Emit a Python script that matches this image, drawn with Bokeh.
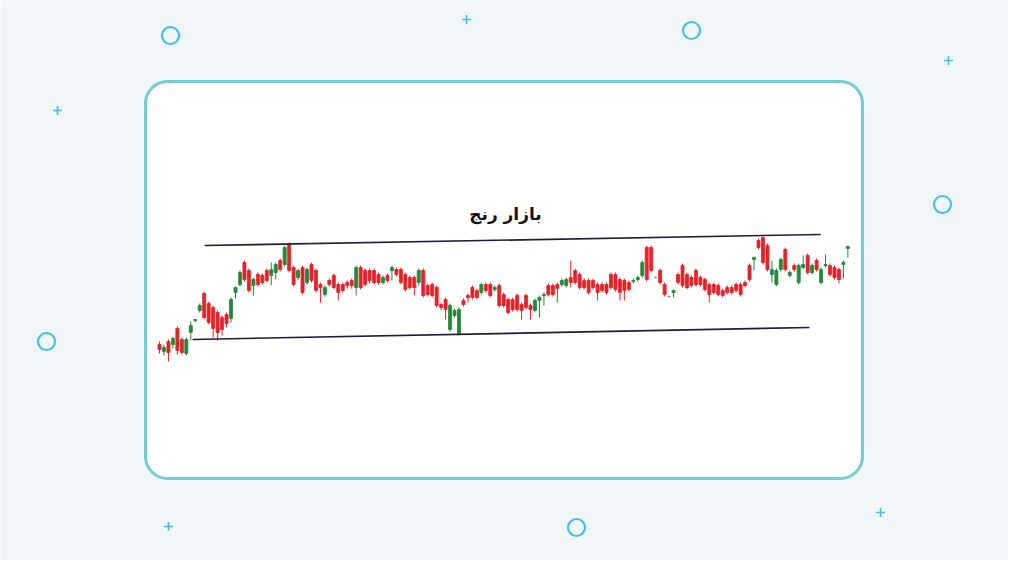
from bokeh.plotting import figure
from bokeh.models import Range1d, ColumnDataSource, BoxAnnotation
from bokeh.core.properties import value
from bokeh.embed import file_html
from bokeh.resources import INLINE

title_text = "بازار رنج"

open_ = [48,41,51,48,64,53,39,60,72,82, 99,89,85,80,75,78,74,100,108,130, 122,107,118,117,122,117,120,132,128,148,
         125,115,125,110,128,122,108,98,112,117, 108,108,110,112,105,125,122,122,122,118, 110,117,122,123,123,118,115,115,110,122,
         107,108,105,88,93,63,77,58,92,97, 105,102,100,108,108,103,107,98,93,93, 97,88,97,87,82,92,97,107,107,108,
         108,107,115,122,118,112,112,112,108,108, 108,118,118,113,112,110,111,113,117,145, 145,115,122,108,96,100,118,127,118,115,
         122,115,113,108,108,107,102,105,105,108, 108,110,127,133,152,155,147,118,108,123, 143,117,127,110,125,137,120,132,110,127,
         127,125,123,128,144]
close = [43,45,40,54,42,40,53,67,73,87, 75,70,64,60,63,69,93,105,120,113, 102,113,108,110,112,123,128,123,145,122,
         108,122,100,123,112,102,105,105,108,105, 100,102,107,107,125,105,108,112,110,110, 115,112,125,118,110,103,105,105,122,97,
         98,97,87,85,83,87,82,83,88,95, 95,95,108,102,97,105,87,87,80,83, 83,82,85,83,92,95,98,98,98,104,
         112,113,110,110,105,105,100,105,100,102, 100,105,103,100,102,103,112,115,130,113, 122,115,110,98,96,102,110,107,105,107,
         108,108,103,98,100,98,97,100,100,102, 98,107,113,135,145,130,123,123,122,133, 123,120,123,127,128,120,127,123,123,128,
         118,115,113,130,146]
high = [51,48,53,56,66,55,55,71,73,89, 101,91,87,82,77,80,95,106,122,132, 124,115,120,119,124,130,130,134,147,150,
        127,124,127,125,130,124,110,107,114,119, 110,110,112,114,127,127,124,124,124,120, 117,119,127,125,125,120,117,117,124,124,
        109,110,107,90,95,89,84,85,94,99, 107,104,110,110,110,107,109,100,95,95, 99,90,99,89,94,97,100,109,109,110,
        114,115,132,124,120,114,114,114,110,110, 110,120,120,115,114,112,114,117,132,147, 147,116,124,110,97,103,120,129,120,117,
        124,117,115,110,110,109,104,107,107,110, 110,112,129,136,154,156,149,132,124,135, 145,122,129,129,137,139,129,134,125,138,
        129,127,125,132,147]
low = [39,37,31,44,38,38,37,52,70,80, 73,68,55,52,57,65,70,94,106,111, 100,97,106,108,110,107,113,121,126,120,
       106,112,98,108,110,100,90,96,106,103, 92,100,104,104,97,103,106,109,108,108, 108,110,112,116,108,101,103,97,107,95,
       96,95,85,82,73,61,75,57,86,90, 93,93,98,100,95,101,85,85,78,81, 81,73,83,73,80,75,87,96,96,90,
       106,105,105,108,103,103,98,103,92,100, 98,103,101,92,92,101,109,111,115,111, 120,114,108,96,95,95,108,105,103,105,
       106,106,101,90,98,96,95,98,98,100, 96,105,111,122,143,128,121,110,106,121, 121,115,121,108,123,118,118,121,108,125,
       116,113,109,114,135]

# trend channel lines (candle index, price)
upper_x = [10.1, 147.9]
upper_y = [147, 158]
lower_x = [7.4, 145.4]
lower_y = [53, 65]

# decorative marks (page pixel positions)
circle_px = [178, 699, 950, 54, 584]
circle_py = [43, 38, 212, 349, 535]
plus_px = [474, 956, 65, 176, 888]
plus_py = [27, 68, 118, 534, 520]

BG = "#f1f6f8"
CYAN = "#45c0de"
UP = "#23883a"
DOWN = "#e4222b"

n = len(open_)
idx = list(range(n))
colors = []
for o, c in zip(open_, close):
    if c > o:
        colors.append(UP)
    elif c < o:
        colors.append(DOWN)
    else:
        colors.append("#8a8a8a")

src = ColumnDataSource(dict(
    x=idx,
    high=high,
    low=low,
    top=[max(o, c) for o, c in zip(open_, close)],
    bottom=[min(o, c) for o, c in zip(open_, close)],
    color=colors,
))

p = figure(width=1008, height=560, x_range=Range1d(8, 1016), y_range=Range1d(-568, -8),
           output_backend="svg", toolbar_location=None, min_border=0,
           x_axis_location=None, y_axis_location=None)
p.grid.visible = False
p.outline_line_color = None
p.background_fill_color = BG
p.border_fill_color = BG

p.extra_x_ranges = {"cx": Range1d(-35.57, 189.93)}
p.extra_y_ranges = {"cy": Range1d(-168, 392)}

card = BoxAnnotation(left=153, right=870, top=-89, bottom=-486,
                     fill_color="white", fill_alpha=1.0,
                     line_color="#74ccd4", line_alpha=1.0, line_width=3,
                     border_radius=22, level="underlay")
p.add_layout(card)

p.scatter(x=circle_px, y=[-v for v in circle_py], marker="circle", size=17,
          fill_alpha=0, line_color=CYAN, line_width=2.2)
p.scatter(x=plus_px, y=[-v for v in plus_py], marker="cross", size=9,
          line_color=CYAN, line_width=1.6)

p.segment(x0="x", y0="high", x1="x", y1="low", line_color="color", line_width=1,
          source=src, x_range_name="cx", y_range_name="cy")
p.vbar(x="x", width=0.68, top="top", bottom="bottom", fill_color="color",
       line_color="color", line_width=0.8, source=src,
       x_range_name="cx", y_range_name="cy")

p.line(upper_x, upper_y, line_color="#1b1f3b", line_width=1.6,
       x_range_name="cx", y_range_name="cy")
p.line(lower_x, lower_y, line_color="#1b1f3b", line_width=1.6,
       x_range_name="cx", y_range_name="cy")

p.text(x=[513], y=[-221], text=[title_text], text_font=value("DejaVu Sans"),
       text_font_style="bold", text_font_size="17px", text_align="center",
       text_baseline="middle", text_color="#111111")

open("out.html", "w").write(file_html(p, INLINE))
